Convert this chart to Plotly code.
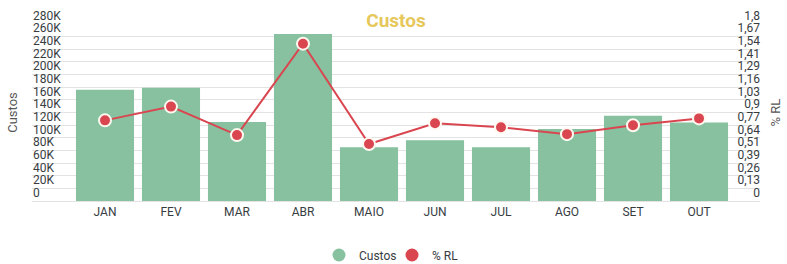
import plotly.graph_objects as go

months = ["JAN", "FEV", "MAR", "ABR", "MAIO", "JUN", "JUL", "AGO", "SET", "OUT"]
custos = [176000, 179000, 125000, 264000, 85000, 96000, 85000, 114000, 135000, 124000]
pct_rl = [0.82, 0.96, 0.67, 1.60, 0.58, 0.79, 0.75, 0.68, 0.77, 0.84]

left_tickvals = [0, 20000, 40000, 60000, 80000, 100000, 120000, 140000, 160000,
                 180000, 200000, 220000, 240000, 260000, 280000]
left_ticktext = ["0", "20K", "40K", "60K", "80K", "100K", "120K", "140K", "160K",
                 "180K", "200K", "220K", "240K", "260K", "280K"]
right_tickvals = [0, 0.128571, 0.257143, 0.385714, 0.514286, 0.642857, 0.771429, 0.9,
                  1.028571, 1.157143, 1.285714, 1.414286, 1.542857, 1.671429, 1.8]
right_ticktext = ["0", "0,13", "0,26", "0,39", "0,51", "0,64", "0,77", "0,9",
                  "1,03", "1,16", "1,29", "1,41", "1,54", "1,67", "1,8"]

GREEN = "#87C1A0"
RED = "#DA4650"
TXT = "#373d3f"
GRID = "#e3e3e3"
FONT = "Roboto"

fig = go.Figure()
fig.add_trace(go.Bar(x=months, y=custos, marker=dict(color=GREEN, line=dict(width=0)),
                     name="Custos", showlegend=False, yaxis="y"))
fig.add_trace(go.Scatter(x=months, y=pct_rl, mode="lines+markers", name="% RL",
                         line=dict(color=RED, width=2),
                         marker=dict(color=RED, size=12, line=dict(color="#FFF8F0", width=2)),
                         showlegend=False, yaxis="y2"))
# invisible traces so the label-only axes get drawn
fig.add_trace(go.Scatter(x=months, y=custos, mode="markers", marker=dict(opacity=0),
                         showlegend=False, hoverinfo="skip", yaxis="y3"))
fig.add_trace(go.Scatter(x=months, y=pct_rl, mode="markers", marker=dict(opacity=0),
                         showlegend=False, hoverinfo="skip", yaxis="y4"))
# legend proxies
fig.add_trace(go.Scatter(x=[None], y=[None], mode="markers", name="Custos",
                         marker=dict(color=GREEN, size=13)))
fig.add_trace(go.Scatter(x=[None], y=[None], mode="markers", name="% RL",
                         marker=dict(color=RED, size=13)))

fig.update_layout(
    width=787, height=264,
    margin=dict(l=32, r=27, t=24, b=63, pad=0, autoexpand=False),
    paper_bgcolor="white", plot_bgcolor="white",
    font=dict(family=FONT, color=TXT, size=12),
    bargap=0.12,
    title=dict(text="<b>Custos</b>", x=396 / 787, xref="container", xanchor="center",
               y=1 - 20 / 264, yref="container", yanchor="middle",
               font=dict(family=FONT, size=19, color="#E6C75A")),
    xaxis=dict(range=[-1.106, 9.924], showgrid=False, showline=True, linecolor=GRID,
               ticks="", tickfont=dict(size=12, color=TXT), zeroline=False),
    yaxis=dict(range=[0, 280000], tickvals=left_tickvals, showticklabels=False,
               showgrid=True, gridcolor=GRID, zeroline=False, ticks="",
               title=dict(text="Custos", standoff=10, font=dict(size=13, color="#555"))),
    yaxis2=dict(range=[0, 1.8], overlaying="y", side="right", showticklabels=False,
                showgrid=False, zeroline=False, ticks="",
                title=dict(text="% RL", standoff=10, font=dict(size=13, color="#555"))),
    yaxis3=dict(range=[0, 280000], overlaying="y", side="right", anchor="free", position=0,
                tickvals=left_tickvals, ticktext=left_ticktext, showgrid=False,
                zeroline=False, ticks="", ticklabelposition="outside top",
                tickfont=dict(size=12, color=TXT)),
    yaxis4=dict(range=[0, 1.8], overlaying="y", side="left", anchor="free", position=1,
                tickvals=right_tickvals, ticktext=right_ticktext, showgrid=False,
                zeroline=False, ticks="", ticklabelposition="outside top",
                tickfont=dict(size=12, color=TXT)),
    legend=dict(orientation="h", x=392 / 787, xref="container", xanchor="center",
                y=1 - 255 / 264, yref="container", yanchor="middle",
                entrywidth=28, entrywidthmode="pixels",
                font=dict(size=12, color=TXT)),
)

fig.write_html("out.html", config={"displayModeBar": False},
               post_script="document.body.style.margin='0';document.body.style.padding='0';")
